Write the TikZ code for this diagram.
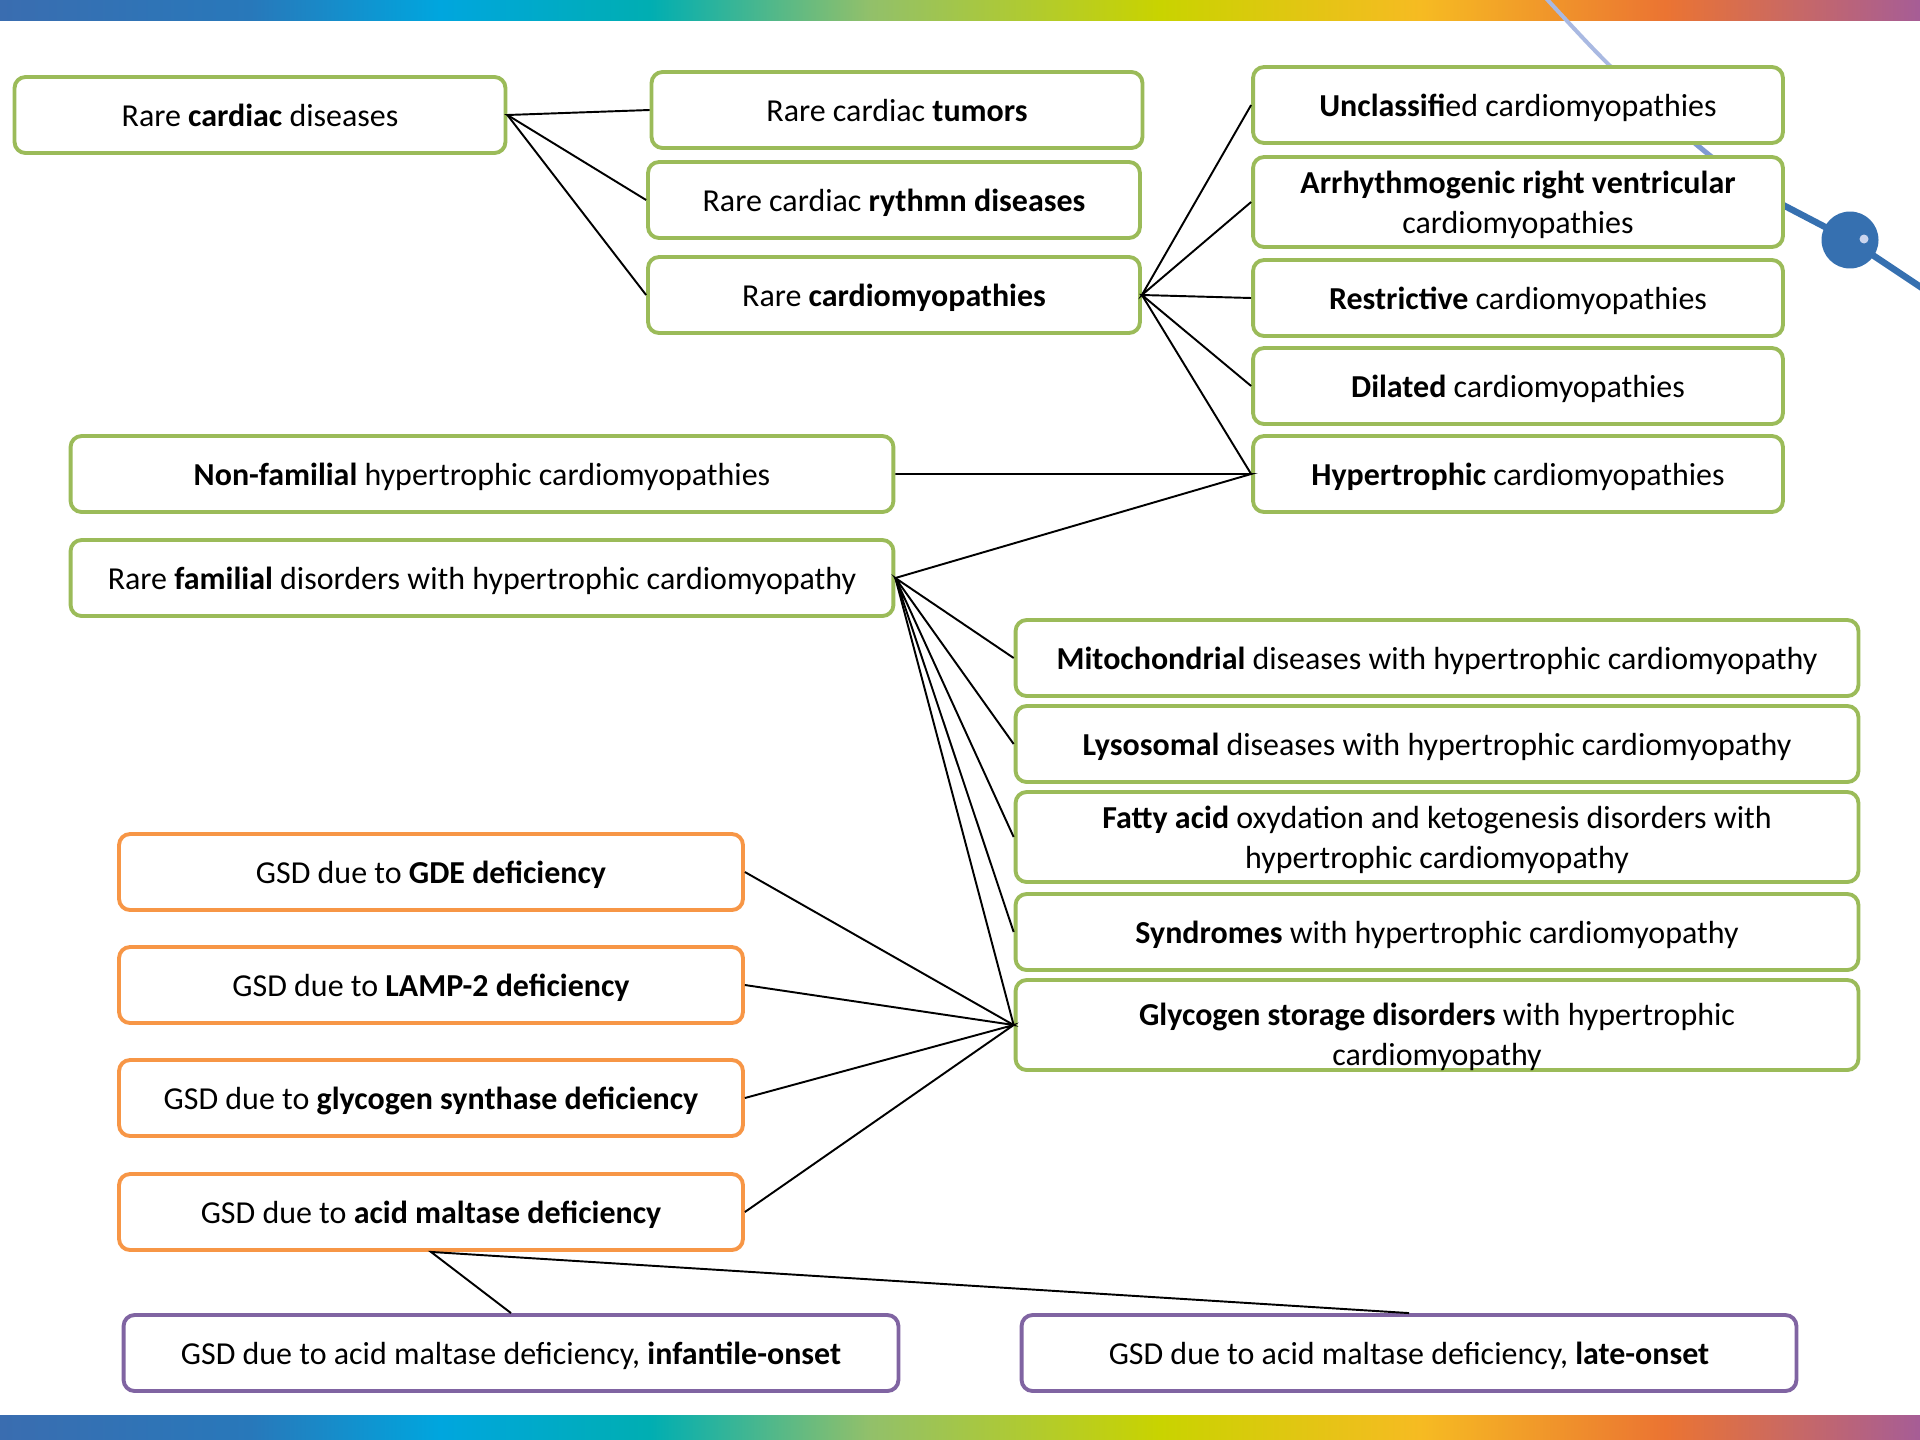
\documentclass[tikz,border=0pt]{standalone}
\usepackage{fontspec}
\setmainfont{Carlito}
\usetikzlibrary{calc}
\definecolor{boxgreen}{HTML}{9BBB59}
\definecolor{boxorange}{HTML}{F79646}
\definecolor{boxpurple}{HTML}{8064A2}
\definecolor{ribA}{HTML}{3A6DB0}
\definecolor{ribB}{HTML}{2878BA}
\definecolor{ribC}{HTML}{00A6DE}
\definecolor{ribD}{HTML}{00AEB2}
\definecolor{ribE}{HTML}{92C06A}
\definecolor{ribF}{HTML}{C9D300}
\definecolor{ribG}{HTML}{F6BB22}
\definecolor{ribH}{HTML}{EB7432}
\definecolor{ribI}{HTML}{A65D96}
\definecolor{arcLight}{HTML}{A9B9E2}
\definecolor{arcMid}{HTML}{7F9AD2}
\definecolor{arcDark}{HTML}{3670B0}
\def\drawRibbon#1#2{
\shade[left color=ribA,right color=ribB] (0,#1) rectangle (250,#2);
\shade[left color=ribB,right color=ribC] (250,#1) rectangle (440,#2);
\shade[left color=ribC,right color=ribD] (440,#1) rectangle (650,#2);
\shade[left color=ribD,right color=ribE] (650,#1) rectangle (870,#2);
\shade[left color=ribE,right color=ribF] (870,#1) rectangle (1160,#2);
\shade[left color=ribF,right color=ribG] (1160,#1) rectangle (1420,#2);
\shade[left color=ribG,right color=ribH] (1420,#1) rectangle (1665,#2);
\shade[left color=ribH,right color=ribI] (1665,#1) rectangle (1920,#2);
}
\tikzset{
box/.style={draw, fill=white, line width=2.2pt, rounded corners=0.22cm, align=center,
  minimum height=1.52cm, inner sep=2pt, text depth=0pt, font=\fontsize{18.2}{22.7}\selectfont},
gbox/.style={box, draw=boxgreen},
obox/.style={box, draw=boxorange, minimum width=12.48cm},
pbox/.style={box, draw=boxpurple, minimum width=15.5cm},
link/.style={line width=1.1pt}
}

\begin{document}
\begin{tikzpicture}[x=0.02cm, y=-0.02cm]
\useasboundingbox (0,0) rectangle (1920,1440);
\fill[white] (0,0) rectangle (1920,1440);
\drawRibbon{0}{20}
\drawRibbon{1415}{1440}
\draw[arcLight, line width=0.08cm] (1543,-5) .. controls (1603,60) .. (1662,115);
\draw[arcMid, line width=0.1cm] (1662,115) .. controls (1720,165) .. (1783,205);
\draw[arcDark, line width=0.13cm] (1783,205) -- (1850,240) -- (1925,290);
\fill[arcDark] (1850,240) circle (0.57cm);
\fill[arcLight!60!white] (1864,239) circle (0.09cm);

\node[gbox, minimum width=9.82cm] at (260,115) (cardiac) {Rare \textbf{cardiac} diseases};
\node[gbox, minimum width=9.82cm] at (897,110) (tumors) {Rare cardiac \textbf{tumors}};
\node[gbox, minimum width=9.84cm] at (894,200) (rythmn) {Rare cardiac \textbf{rythmn diseases}};
\node[gbox, minimum width=9.84cm] at (894,295) (cardiomyo) {Rare \textbf{cardiomyopathies}};

\node[gbox, minimum width=10.6cm] at (1518,105) (unclass) {\textbf{Unclassifi}ed cardiomyopathies};
\node[gbox, minimum width=10.6cm, minimum height=1.8cm] at (1518,202) (arrhyth) {\textbf{Arrhythmogenic right ventricular}\\cardiomyopathies};
\node[gbox, minimum width=10.6cm] at (1518,298) (restrict) {\textbf{Restrictive} cardiomyopathies};
\node[gbox, minimum width=10.6cm] at (1518,386) (dilated) {\textbf{Dilated} cardiomyopathies};
\node[gbox, minimum width=10.6cm] at (1518,474) (hypertro) {\textbf{Hypertrophic} cardiomyopathies};

\node[gbox, minimum width=16.46cm] at (482,474) (nonfam) {\textbf{Non-familial} hypertrophic cardiomyopathies};
\node[gbox, minimum width=16.46cm] at (482,578) (familial) {Rare \textbf{familial} disorders with hypertrophic cardiomyopathy};

\node[gbox, minimum width=16.86cm] at (1437,658) (mito) {\textbf{Mitochondrial} diseases with hypertrophic cardiomyopathy};
\node[gbox, minimum width=16.86cm] at (1437,744) (lyso) {\textbf{Lysosomal} diseases with hypertrophic cardiomyopathy};
\node[gbox, minimum width=16.86cm, minimum height=1.8cm] at (1437,837) (fatty) {\textbf{Fatty acid} oxydation and ketogenesis disorders with\\hypertrophic cardiomyopathy};
\node[gbox, minimum width=16.86cm] at (1437,932) (syndr) {\textbf{Syndromes} with hypertrophic cardiomyopathy};
\node[gbox, minimum width=16.86cm, minimum height=1.8cm] at (1437,1025) (glyco) {\rule{0pt}{23.5pt}\textbf{Glycogen storage disorders} with hypertrophic\\cardiomyopathy};

\node[obox] at (431,872) (gde) {GSD due to \textbf{GDE deficiency}};
\node[obox] at (431,985) (lamp) {GSD due to \textbf{LAMP-2 deficiency}};
\node[obox] at (431,1098) (synth) {GSD due to \textbf{glycogen synthase deficiency}};
\node[obox] at (431,1212) (maltase) {GSD due to \textbf{acid maltase deficiency}};

\node[pbox] at (511,1353) (infant) {GSD due to acid maltase deficiency, \textbf{infantile-onset}};
\node[pbox] at (1409,1353) (late) {GSD due to acid maltase deficiency, \textbf{late-onset}};

\draw[link] (tumors.west) -- (cardiac.east) -- (rythmn.west);
\draw[link] (cardiac.east) -- (cardiomyo.west);
\draw[link] (unclass.west) -- (cardiomyo.east) -- (arrhyth.west);
\draw[link] (restrict.west) -- (cardiomyo.east) -- (dilated.west);
\draw[link] (cardiomyo.east) -- (hypertro.west);
\draw[link] (nonfam.east) -- (hypertro.west) -- (familial.east);
\draw[link] (mito.west) -- (familial.east) -- (lyso.west);
\draw[link] (fatty.west) -- (familial.east) -- (syndr.west);
\draw[link] (familial.east) -- (glyco.west);
\draw[link] (gde.east) -- (glyco.west) -- (lamp.east);
\draw[link] (synth.east) -- (glyco.west) -- (maltase.east);
\draw[link] (infant.north) -- (maltase.south) -- (late.north);
\end{tikzpicture}
\end{document}
